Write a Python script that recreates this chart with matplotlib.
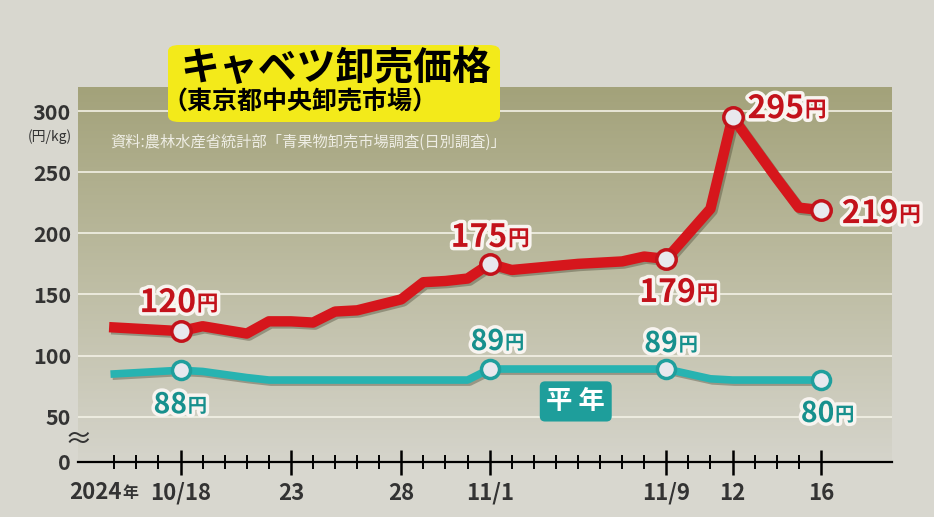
import matplotlib
matplotlib.use('Agg')
import matplotlib.patheffects as pe
import matplotlib.pyplot as plt
import numpy as np
import pandas as pd
from matplotlib.colors import LinearSegmentedColormap
from matplotlib.patches import FancyBboxPatch

plt.rcParams['font.family'] = ['Noto Sans CJK JP', 'DejaVu Sans']

# --- data (円/kg) ---
dates = ['2024-10-15', '2024-10-16', '2024-10-17', '2024-10-18', '2024-10-19',
         '2024-10-21', '2024-10-22', '2024-10-23', '2024-10-24', '2024-10-25',
         '2024-10-26', '2024-10-28', '2024-10-29', '2024-10-30', '2024-10-31',
         '2024-11-01', '2024-11-02', '2024-11-05', '2024-11-06', '2024-11-07',
         '2024-11-08', '2024-11-09', '2024-11-11', '2024-11-12', '2024-11-13',
         '2024-11-14', '2024-11-15', '2024-11-16']
cabbage_price = [123, 122, 121, 120, 124,
                 118, 128, 128, 127, 136,
                 137, 146, 160, 161, 163,
                 175, 170, 175, 176, 177,
                 181, 179, 220, 295, 270,
                 245, 221, 219]
normal_price = [85, 86, 87, 88, 87,
                82, 80, 80, 80, 80,
                80, 80, 80, 80, 80,
                89, 89, 89, 89, 89,
                89, 89, 81, 80, 80,
                80, 80, 80]

red_label_dates = ['2024-10-18', '2024-11-01', '2024-11-09', '2024-11-12', '2024-11-16']
teal_label_dates = ['2024-10-18', '2024-11-01', '2024-11-09', '2024-11-16']

x_tick_dates = ['2024-10-18', '2024-10-23', '2024-10-28', '2024-11-01',
                '2024-11-09', '2024-11-12', '2024-11-16']
x_tick_labels = ['10/18', '23', '28', '11/1', '11/9', '12', '16']
y_ticks = [50, 100, 150, 200, 250, 300]

# --- layout / style ---
W, H = 934, 517
START = pd.Timestamp('2024-10-15')
Y_BASE = 13.2          # where the broken axis puts "0"
BG = '#d8d7cf'
DARK = '#333333'
RED, RED_TXT = '#d6161c', '#c3121b'
TEAL, TEAL_TXT = '#27b3b1', '#17908d'
# label offsets in pixels: (dx of left edge, dy of baseline, +up)
red_offsets = {'2024-10-18': (-41, 19), '2024-11-01': (-39, 17), '2024-11-09': (-27, -43),
               '2024-11-12': (15, -1), '2024-11-16': (21, -13)}
teal_offsets = {'2024-10-18': (-27, -43), '2024-11-01': (-19, 19), '2024-11-09': (-22, 17),
                '2024-11-16': (-20, -42)}


def px(x: float, y: float):
    """pixel position (from top-left) -> figure fraction"""
    return x / W, 1 - y / H


def to_day(d):
    return (pd.to_datetime(d) - START).days


def put_label(ax, x, y, value, offset, color, size):
    stroke = [pe.withStroke(linewidth=5, foreground='#f8f4f0')]
    num = ax.annotate(f'{value:.0f}', xy=(x, y), xytext=(offset[0] * 0.72, offset[1] * 0.72),
                      textcoords='offset points', ha='left', va='baseline',
                      fontsize=size, fontweight='bold', color=color,
                      path_effects=stroke, zorder=7)
    ax.annotate('円', xy=(1, 0), xycoords=num, xytext=(0.5, size * 0.11),
                textcoords='offset points', ha='left', va='bottom',
                fontsize=size * 0.68, fontweight='bold',
                color=color, path_effects=stroke, zorder=7)


fig = plt.figure(figsize=(W / 100, H / 100), dpi=100, facecolor=BG)
ax = fig.add_axes([78 / W, 1 - 461.7 / H, 813.7 / W, 375 / H])

xlim = (-1.644, 35.21)
ylim = (Y_BASE, 319.9)
ax.set_xlim(*xlim)
ax.set_ylim(*ylim)

# olive gradient background
cmap = LinearSegmentedColormap.from_list('bg', ['#a3a27a', '#bdbca2', '#d5d4cb'])
ax.imshow(np.linspace(0, 1, 256).reshape(-1, 1), cmap=cmap, aspect='auto',
          extent=[*xlim, *ylim], zorder=0)

for v in y_ticks:
    ax.axhline(v, color='#f3f1e6', lw=1.2, zorder=1)

days = to_day(dates)
shadow = [pe.SimpleLineShadow(offset=(1.5, -1.5), shadow_color='#3a3826', alpha=0.35), pe.Normal()]
ax.plot(days, normal_price, color=TEAL, lw=5.5, solid_joinstyle='round',
        path_effects=shadow, zorder=3)
ax.plot(days, cabbage_price, color=RED, lw=7.5, solid_joinstyle='round',
        path_effects=shadow, zorder=4)

price_red = dict(zip(dates, cabbage_price))
price_teal = dict(zip(dates, normal_price))

ax.plot(to_day(red_label_dates), [price_red[d] for d in red_label_dates], 'o', ms=14,
        mfc='#e8e8ee', mec='#c3121b', mew=2.5, zorder=5)
ax.plot(to_day(teal_label_dates), [price_teal[d] for d in teal_label_dates], 'o', ms=13,
        mfc='#e8e8ee', mec='#1f9f9d', mew=2.5, zorder=5)

for d in red_label_dates:
    put_label(ax, to_day(d), price_red[d], price_red[d], red_offsets[d], RED_TXT, 23)
for d in teal_label_dates:
    put_label(ax, to_day(d), price_teal[d], price_teal[d], teal_offsets[d], TEAL_TXT, 20.5)

# 平年 tag
ax.text(20.9, 62.5, '平 年', ha='center', va='center', fontsize=19, fontweight='bold',
        color='white', zorder=6,
        bbox=dict(boxstyle='round,pad=0.25,rounding_size=0.2', fc='#1e9e9b', ec='none'))

# axes
for s in ['top', 'right', 'left']:
    ax.spines[s].set_visible(False)
ax.spines['bottom'].set_linewidth(1.6)
ax.spines['bottom'].set_zorder(6)

ax.set_xticks(to_day(x_tick_dates), x_tick_labels)
ax.set_xticks(range(0, 33), minor=True)
ax.tick_params(axis='x', which='major', direction='inout', length=18, width=1.8,
               pad=5.5, labelsize=16, labelcolor=DARK)
ax.tick_params(axis='x', which='minor', direction='inout', length=10, width=1.4)
for lbl in ax.get_xticklabels():
    lbl.set_fontweight('bold')

ax.set_yticks([Y_BASE] + y_ticks, ['0'] + [str(v) for v in y_ticks])
ax.tick_params(axis='y', length=0, pad=5, labelsize=15.5, labelcolor=DARK)
for lbl in ax.get_yticklabels():
    lbl.set_fontweight('bold')

# figure decorations
fig.text(*px(72, 137), '(円/kg)', ha='right', va='center', fontsize=10, color=DARK)
fig.text(*px(78, 440), '≈', ha='center', va='center', fontsize=20, color=DARK)
yr = fig.text(*px(69, 499), '2024', ha='left', va='baseline', fontsize=16,
              fontweight='bold', color=DARK)
ax.annotate('年', xy=(1, 0), xycoords=yr, xytext=(0.5, 2), textcoords='offset points',
            ha='left', va='bottom', fontsize=11.5, fontweight='bold', color=DARK)

fig.add_artist(FancyBboxPatch(px(168, 122), 332 / W, 77 / H,
                              boxstyle='round,pad=0,rounding_size=0.012',
                              transform=fig.transFigure, fc='#f3ea1a', ec='none', zorder=10))
fig.text(*px(180, 68), 'キャベツ卸売価格', ha='left', va='center', fontsize=28,
         fontweight='bold', color='black', zorder=11)
fig.text(*px(162, 102), '（東京都中央卸売市場）', ha='left', va='center', fontsize=18,
         fontweight='bold', color='black', zorder=11)
fig.text(*px(110, 142), '資料:農林水産省統計部「青果物卸売市場調査(日別調査)」', ha='left',
         va='center', fontsize=11, color='#eeede4', zorder=11)

fig.savefig('out.png', dpi=100, facecolor=BG)
